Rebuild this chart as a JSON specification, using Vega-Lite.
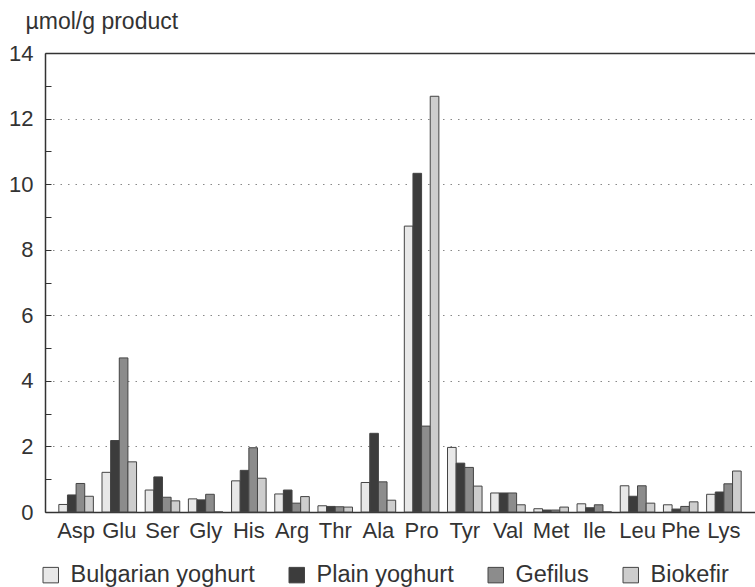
{
  "$schema": "https://vega.github.io/schema/vega-lite/v6.json",
  "width": 710,
  "height": 459,
  "autosize": {"type": "none"},
  "padding": {"left": 45, "top": 53, "right": 0, "bottom": 75},
  "background": "white",
  "config": {"view": {"stroke": null}, "font": "Liberation Sans"},
  "data": {"values": [
    {"aa":"Asp","product":"Bulgarian yoghurt","v":0.23},{"aa":"Asp","product":"Plain yoghurt","v":0.52},{"aa":"Asp","product":"Gefilus","v":0.87},{"aa":"Asp","product":"Biokefir","v":0.48},
    {"aa":"Glu","product":"Bulgarian yoghurt","v":1.21},{"aa":"Glu","product":"Plain yoghurt","v":2.18},{"aa":"Glu","product":"Gefilus","v":4.7},{"aa":"Glu","product":"Biokefir","v":1.53},
    {"aa":"Ser","product":"Bulgarian yoghurt","v":0.67},{"aa":"Ser","product":"Plain yoghurt","v":1.07},{"aa":"Ser","product":"Gefilus","v":0.45},{"aa":"Ser","product":"Biokefir","v":0.34},
    {"aa":"Gly","product":"Bulgarian yoghurt","v":0.4},{"aa":"Gly","product":"Plain yoghurt","v":0.37},{"aa":"Gly","product":"Gefilus","v":0.54},{"aa":"Gly","product":"Biokefir","v":0},
    {"aa":"His","product":"Bulgarian yoghurt","v":0.95},{"aa":"His","product":"Plain yoghurt","v":1.27},{"aa":"His","product":"Gefilus","v":1.96},{"aa":"His","product":"Biokefir","v":1.03},
    {"aa":"Arg","product":"Bulgarian yoghurt","v":0.55},{"aa":"Arg","product":"Plain yoghurt","v":0.67},{"aa":"Arg","product":"Gefilus","v":0.27},{"aa":"Arg","product":"Biokefir","v":0.47},
    {"aa":"Thr","product":"Bulgarian yoghurt","v":0.19},{"aa":"Thr","product":"Plain yoghurt","v":0.17},{"aa":"Thr","product":"Gefilus","v":0.16},{"aa":"Thr","product":"Biokefir","v":0.15},
    {"aa":"Ala","product":"Bulgarian yoghurt","v":0.9},{"aa":"Ala","product":"Plain yoghurt","v":2.4},{"aa":"Ala","product":"Gefilus","v":0.92},{"aa":"Ala","product":"Biokefir","v":0.36},
    {"aa":"Pro","product":"Bulgarian yoghurt","v":8.72},{"aa":"Pro","product":"Plain yoghurt","v":10.33},{"aa":"Pro","product":"Gefilus","v":2.62},{"aa":"Pro","product":"Biokefir","v":12.68},
    {"aa":"Tyr","product":"Bulgarian yoghurt","v":1.97},{"aa":"Tyr","product":"Plain yoghurt","v":1.49},{"aa":"Tyr","product":"Gefilus","v":1.36},{"aa":"Tyr","product":"Biokefir","v":0.79},
    {"aa":"Val","product":"Bulgarian yoghurt","v":0.58},{"aa":"Val","product":"Plain yoghurt","v":0.58},{"aa":"Val","product":"Gefilus","v":0.58},{"aa":"Val","product":"Biokefir","v":0.22},
    {"aa":"Met","product":"Bulgarian yoghurt","v":0.1},{"aa":"Met","product":"Plain yoghurt","v":0.06},{"aa":"Met","product":"Gefilus","v":0.06},{"aa":"Met","product":"Biokefir","v":0.15},
    {"aa":"Ile","product":"Bulgarian yoghurt","v":0.25},{"aa":"Ile","product":"Plain yoghurt","v":0.13},{"aa":"Ile","product":"Gefilus","v":0.22},{"aa":"Ile","product":"Biokefir","v":0},
    {"aa":"Leu","product":"Bulgarian yoghurt","v":0.8},{"aa":"Leu","product":"Plain yoghurt","v":0.48},{"aa":"Leu","product":"Gefilus","v":0.8},{"aa":"Leu","product":"Biokefir","v":0.27},
    {"aa":"Phe","product":"Bulgarian yoghurt","v":0.22},{"aa":"Phe","product":"Plain yoghurt","v":0.09},{"aa":"Phe","product":"Gefilus","v":0.17},{"aa":"Phe","product":"Biokefir","v":0.31},
    {"aa":"Lys","product":"Bulgarian yoghurt","v":0.54},{"aa":"Lys","product":"Plain yoghurt","v":0.61},{"aa":"Lys","product":"Gefilus","v":0.86},{"aa":"Lys","product":"Biokefir","v":1.25}
  ]},
  "mark": {"type": "bar", "stroke": "#444", "strokeWidth": 1},
  "encoding": {
    "x": {
      "field": "aa", "type": "nominal",
      "sort": ["Asp","Glu","Ser","Gly","His","Arg","Thr","Ala","Pro","Tyr","Val","Met","Ile","Leu","Phe","Lys"],
      "scale": {"paddingInner": 0.2, "paddingOuter": 0.32},
      "axis": {"title": null, "labelAngle": 0, "ticks": false, "labelFontSize": 22, "labelColor": "#333", "labelPadding": 8, "domainColor": "#333", "domainWidth": 1.5}
    },
    "xOffset": {"field": "product", "type": "nominal", "sort": ["Bulgarian yoghurt","Plain yoghurt","Gefilus","Biokefir"]},
    "y": {
      "field": "v", "type": "quantitative",
      "scale": {"domain": [0, 14], "nice": false},
      "axis": {
        "title": "µmol/g product", "titleAngle": 0, "titleAlign": "left", "titleBaseline": "alphabetic",
        "titleX": -20, "titleY": -25, "titleFontSize": 23, "titleFontWeight": "normal", "titleColor": "#333",
        "values": [0,1,2,3,4,5,6,7,8,9,10,11,12,13,14],
        "labelExpr": "datum.value % 2 == 0 ? datum.label : ''",
        "labelFontSize": 22, "labelColor": "#333", "labelPadding": 18,
        "tickSize": -6, "tickColor": "#333",
        "domainColor": "#333", "domainWidth": 1.5,
        "grid": true,
        "gridOpacity": {"condition": {"test": "datum.value % 2 == 1", "value": 0}, "value": 1},
        "gridDash": {"condition": {"test": "datum.value == 14", "value": []}, "value": [1.5, 6]},
        "gridColor": {"condition": {"test": "datum.value == 14", "value": "#333"}, "value": "#888"},
        "gridWidth": {"condition": {"test": "datum.value == 14", "value": 1.5}, "value": 1}
      }
    },
    "fill": {
      "field": "product", "type": "nominal",
      "sort": ["Bulgarian yoghurt","Plain yoghurt","Gefilus","Biokefir"],
      "scale": {"domain": ["Bulgarian yoghurt","Plain yoghurt","Gefilus","Biokefir"], "range": ["#e8e8e8", "#3c3c3c", "#8c8c8c", "#cdcdcd"]},
      "legend": {
        "title": null, "orient": "none", "direction": "horizontal", "legendX": -6, "legendY": 510,
        "symbolType": "square", "symbolSize": 240, "symbolStrokeColor": "#444", "symbolStrokeWidth": 1,
        "labelFontSize": 23.5, "labelColor": "#333", "columnPadding": 30, "labelOffset": 8, "labelLimit": 300
      }
    }
  }
}
